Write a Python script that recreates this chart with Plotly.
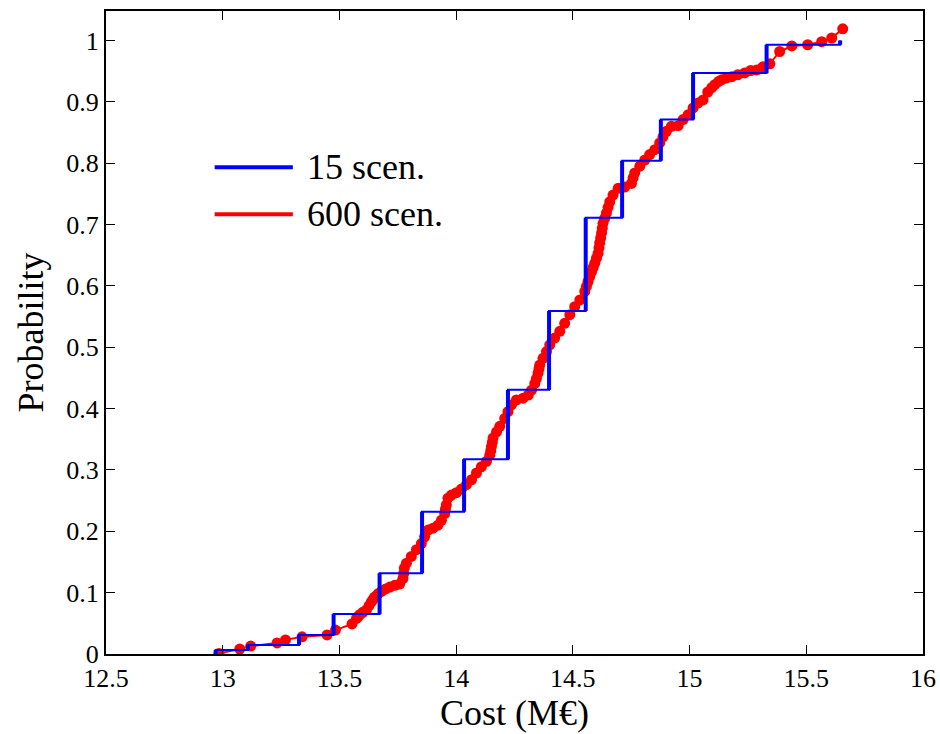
import plotly.graph_objects as go

# ---- data: 15-scenario CDF (step) ----
scen15_cost = [12.97, 13.108, 13.327, 13.475, 13.672, 13.854, 14.034, 14.222,
               14.398, 14.555, 14.711, 14.877, 15.015, 15.33, 15.645]
scen15_cdf = [0.0065, 0.0147, 0.031, 0.065, 0.1316, 0.232, 0.3175, 0.4305,
              0.559, 0.711, 0.804, 0.871, 0.947, 0.993, 1.0]

scen600_cost = [
    12.984, 13.073, 13.12, 13.233, 13.269, 13.34, 13.447, 13.483, 13.554, 13.573,
    13.58, 13.587, 13.60, 13.616, 13.627, 13.637, 13.644, 13.651, 13.665, 13.680,
    13.698, 13.716, 13.737, 13.758, 13.772, 13.775, 13.778, 13.787, 13.808, 13.830,
    13.851, 13.865, 13.880, 13.901, 13.922, 13.937, 13.951, 13.954, 13.958, 13.965,
    13.980, 14.001, 14.023, 14.044, 14.066, 14.087, 14.108, 14.130, 14.144, 14.148,
    14.151, 14.155, 14.158, 14.173, 14.187, 14.208, 14.222, 14.237, 14.258, 14.287,
    14.309, 14.323, 14.337, 14.344, 14.351, 14.355, 14.358, 14.372, 14.387, 14.401,
    14.422, 14.444, 14.465, 14.487, 14.508, 14.530, 14.551, 14.558, 14.565, 14.572,
    14.580, 14.587, 14.594, 14.601, 14.608, 14.612, 14.615, 14.619, 14.623, 14.626,
    14.629, 14.636, 14.644, 14.651, 14.658, 14.672, 14.694, 14.722, 14.751, 14.758,
    14.765, 14.787, 14.808, 14.829, 14.851, 14.872, 14.886, 14.901, 14.922, 14.951,
    14.972, 14.994, 15.015, 15.036, 15.058, 15.078, 15.095, 15.108, 15.124, 15.138,
    15.159, 15.181, 15.206, 15.236, 15.262, 15.288, 15.314, 15.344, 15.386, 15.438,
    15.506, 15.566, 15.609, 15.656]
scen600_cdf = [
    0.001, 0.008, 0.013, 0.018, 0.023, 0.028, 0.031, 0.039, 0.049, 0.058,
    0.061, 0.064, 0.068, 0.072, 0.079, 0.085, 0.089, 0.093, 0.098, 0.102,
    0.106, 0.109, 0.112, 0.114, 0.123, 0.131, 0.140, 0.148, 0.159, 0.170,
    0.180, 0.191, 0.202, 0.205, 0.210, 0.218, 0.229, 0.236, 0.243, 0.254,
    0.259, 0.263, 0.269, 0.276, 0.284, 0.295, 0.305, 0.314, 0.324, 0.331,
    0.338, 0.345, 0.352, 0.362, 0.371, 0.384, 0.395, 0.406, 0.414, 0.417,
    0.422, 0.430, 0.441, 0.449, 0.458, 0.465, 0.471, 0.482, 0.493, 0.504,
    0.515, 0.526, 0.539, 0.553, 0.566, 0.577, 0.591, 0.599, 0.607, 0.615,
    0.623, 0.630, 0.637, 0.645, 0.653, 0.662, 0.670, 0.678, 0.686, 0.694,
    0.702, 0.710, 0.719, 0.728, 0.737, 0.748, 0.759, 0.761, 0.767, 0.776,
    0.784, 0.795, 0.805, 0.814, 0.822, 0.833, 0.843, 0.852, 0.860, 0.861,
    0.871, 0.879, 0.890, 0.898, 0.903, 0.916, 0.923, 0.928, 0.933, 0.936,
    0.939, 0.941, 0.944, 0.947, 0.951, 0.952, 0.957, 0.962, 0.982, 0.991,
    0.993, 0.998, 1.004, 1.019]

x_ticks = [12.5, 13, 13.5, 14, 14.5, 15, 15.5, 16]
x_ticklabels = ["12.5", "13", "13.5", "14", "14.5", "15", "15.5", "16"]
y_ticks = [0, 0.1, 0.2, 0.3, 0.4, 0.5, 0.6, 0.7, 0.8, 0.9, 1]
y_ticklabels = ["0", "0.1", "0.2", "0.3", "0.4", "0.5", "0.6", "0.7", "0.8", "0.9", "1"]
legend_names = ["15 scen.", "600 scen."]

RED = "rgb(255,0,0)"
BLUE = "rgb(0,0,255)"
FONT = "Liberation Serif"

fig = go.Figure()

# red 600-scenario curve
fig.add_trace(go.Scatter(
    x=scen600_cost, y=scen600_cdf, mode="lines+markers",
    line=dict(color=RED, width=2),
    marker=dict(color=RED, size=11, line=dict(width=0)),
    name=legend_names[1], showlegend=False))

# blue stairs (thin horizontals)
stair_x = [scen15_cost[0]] + scen15_cost
stair_y = [0] + scen15_cdf
fig.add_trace(go.Scatter(
    x=stair_x, y=stair_y, mode="lines", line=dict(color=BLUE, width=2, shape="hv"),
    name=legend_names[0], showlegend=False))

# blue stairs (thicker verticals)
vx, vy = [], []
prev = 0
for c, p in zip(scen15_cost, scen15_cdf):
    vx += [c, c, None]
    vy += [prev, p, None]
    prev = p
fig.add_trace(go.Scatter(x=vx, y=vy, mode="lines", line=dict(color=BLUE, width=4),
                         showlegend=False))

# manual legend (layout elements)
leg_items = [(legend_names[0], BLUE, 0.757), (legend_names[1], RED, 0.684)]
for name, col, yy in leg_items:
    fig.add_shape(type="line", xref="paper", yref="paper", x0=0.133, x1=0.2287,
                  y0=yy, y1=yy, line=dict(color=col, width=4))
    fig.add_annotation(xref="paper", yref="paper", x=0.2434, y=yy, text=name,
                       showarrow=False, xanchor="left", yanchor="middle",
                       font=dict(family=FONT, size=36, color="black"))

axis_common = dict(
    showline=True, linecolor="black", linewidth=2, mirror="ticks",
    ticks="inside", ticklen=9, tickwidth=1, tickcolor="black",
    showgrid=False, zeroline=False,
    tickfont=dict(family=FONT, size=26, color="black"),
)

fig.update_xaxes(range=[12.5, 16], tickvals=x_ticks, ticktext=x_ticklabels,
                 title=dict(text="Cost (M€)", font=dict(family=FONT, size=36, color="black"),
                            standoff=8),
                 **axis_common)
fig.update_yaxes(range=[0, 1.048], tickvals=y_ticks, ticktext=y_ticklabels,
                 title=dict(text="Probability", font=dict(family=FONT, size=36, color="black"),
                            standoff=12),
                 **axis_common)

fig.update_layout(
    width=940, height=734,
    margin=dict(l=106, r=17, t=11, b=80, autoexpand=False),
    plot_bgcolor="white", paper_bgcolor="white",
    font=dict(family=FONT, color="black"),
    showlegend=False,
)

fig.write_html("out.html")
